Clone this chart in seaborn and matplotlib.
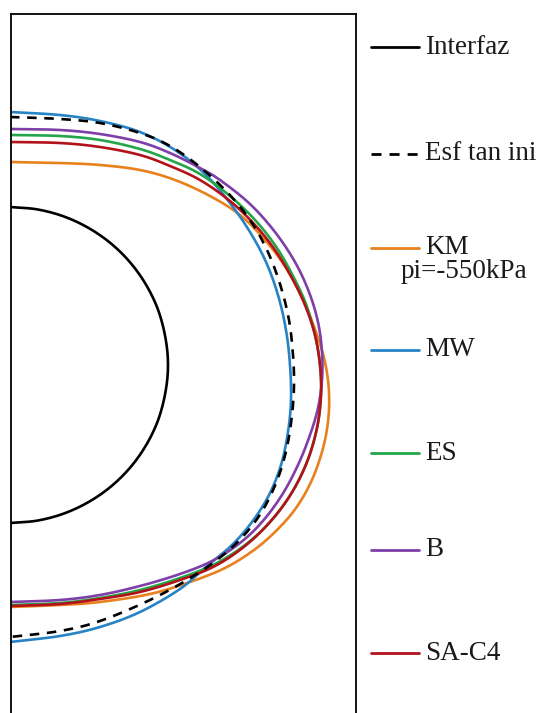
import matplotlib
matplotlib.use("Agg")
import matplotlib.pyplot as plt
import seaborn as sns
import pandas as pd
import numpy as np
from matplotlib.lines import Line2D

sns.set_theme(style="white")
plt.rcParams['font.family'] = ['Liberation Serif', 'DejaVu Serif']

# Curves (x, y in picture units; y grows downward)
interfaz_x = [10, 37.4, 64, 89, 111.6, 131, 146.8, 158.5, 165.6, 168, 165.6, 158.5, 146.8, 131, 111.6, 89, 64, 37.4, 10]
interfaz_y = [207, 209.4, 216.5, 228.2, 244, 263.4, 286, 311, 338.6, 365, 391.4, 419, 444, 466.6, 486, 501.8, 513.5, 520.6, 523]

km_x = [10, 60, 100, 140, 175, 210, 240, 265, 286, 303, 316, 325, 329, 328, 322, 311, 296, 277, 254, 225, 190, 150, 100, 60, 10]
km_y = [162, 163, 165, 170, 180, 196, 215, 240, 268, 300, 332, 362, 392, 422, 452, 482, 508, 530, 550, 568, 582, 594, 602, 605, 607]

mw_x = [10, 60, 100, 140, 175, 205, 230, 250, 266, 278, 286, 290, 291, 288, 281, 269, 252, 232, 207, 180, 140, 100, 60, 10]
mw_y = [112, 115, 121, 132, 150, 174, 203, 232, 262, 295, 330, 365, 400, 432, 465, 495, 522, 545, 566, 589, 612, 627, 636, 642]

es_x = [10, 60, 100, 140, 170, 200, 230, 256, 277, 293, 306, 315, 320, 321, 317, 307, 291, 270, 245, 215, 180, 140, 100, 60, 10]
es_y = [135, 136, 140, 149, 160, 174, 196, 221, 248, 276, 304, 335, 365, 395, 428, 462, 494, 522, 545, 564, 578, 590, 598, 603, 605]

b_x = [10, 60, 100, 140, 170, 200, 220, 250, 275, 295, 309, 318, 322, 322, 318, 310, 298, 282, 262, 240, 212, 180, 140, 100, 60, 10]
b_y = [129, 130, 134, 142, 153, 168, 180, 204, 232, 262, 292, 322, 352, 380, 408, 435, 465, 495, 522, 543, 561, 574, 586, 595, 600, 602]

sac4_x = [10, 60, 100, 140, 170, 200, 230, 255, 275, 292, 305, 315, 320, 321, 317, 307, 291, 270, 245, 215, 180, 140, 100, 60, 10]
sac4_y = [142, 143, 147, 155, 166, 180, 201, 225, 250, 278, 305, 335, 365, 395, 428, 462, 494, 522, 546, 566, 580, 592, 599, 604, 606]

esf_x = [10, 60, 100, 140, 170, 200, 228, 250, 267, 280, 289, 293, 294, 292, 287, 278, 264, 246, 222, 192, 150, 100, 60, 10]
esf_y = [117, 119, 123, 133, 146, 167, 193, 220, 250, 284, 320, 355, 385, 415, 447, 478, 508, 533, 556, 577, 600, 621, 631, 637]

series = [
    ("Interfaz", interfaz_x, interfaz_y, "#000000", "-"),
    ("KM", km_x, km_y, "#E8811C", "-"),
    ("MW", mw_x, mw_y, "#2683C6", "-"),
    ("ES", es_x, es_y, "#23A64A", "-"),
    ("B", b_x, b_y, "#7E3FA8", "-"),
    ("SA-C4", sac4_x, sac4_y, "#B4121B", "-"),
    ("Esf tan ini", esf_x, esf_y, "#000000", (0, (3.6, 2.9))),
]


def smooth_path(xs, ys, n=12):
    """Smoothed drawing path through the read points (like a smoothed scatter line)."""
    p = np.column_stack([xs, ys]).astype(float)
    p = np.vstack([2 * p[0] - p[1], p, 2 * p[-1] - p[-2]])
    out = []
    for i in range(1, len(p) - 2):
        p0, p1, p2, p3 = p[i - 1], p[i], p[i + 1], p[i + 2]
        t = np.linspace(0, 1, n, endpoint=False)[:, None]
        seg = 0.5 * ((2 * p1) + (-p0 + p2) * t + (2 * p0 - 5 * p1 + 4 * p2 - p3) * t ** 2
                     + (-p0 + 3 * p1 - 3 * p2 + p3) * t ** 3)
        out.append(seg)
    out.append(p[-2][None, :])
    out = np.vstack(out)
    return out[:, 0], out[:, 1]


W, H = 557, 713
fig = plt.figure(figsize=(W / 100, H / 100), dpi=100)
left, right, top = 10.5, 356, 14
ax = fig.add_axes([left / W, 0, (right - left) / W, (H - top) / H])

for name, xs, ys, col, ls in series:
    sx, sy = smooth_path(xs, ys)
    df = pd.DataFrame({"x": sx, "y": sy})
    sns.lineplot(data=df, x="x", y="y", sort=False, estimator=None, ax=ax,
                 color=col, linewidth=1.9, linestyle=ls)

ax.set_xlim(left, right)
ax.set_ylim(H, top)
ax.set_xticks([])
ax.set_yticks([])
ax.set_xlabel("")
ax.set_ylabel("")
for s in ["left", "right", "top"]:
    ax.spines[s].set_color("black")
    ax.spines[s].set_linewidth(1.3)
ax.spines["bottom"].set_visible(False)

# Legend drawn at the right side
legend_items = [
    ("Interfaz", "#000000", "-", 47),
    ("Esf tan ini", "#000000", (0, (3.6, 2.9)), 154),
    ("KM", "#E8811C", "-", 248),
    ("MW", "#2683C6", "-", 350),
    ("ES", "#23A64A", "-", 453),
    ("B", "#7E3FA8", "-", 550),
    ("SA-C4", "#B4121B", "-", 653),
]
for lab, col, ls, yy in legend_items:
    yf = 1 - yy / H
    fig.add_artist(Line2D([371 / W, 419 / W], [yf, yf], color=col, linewidth=2.0,
                          linestyle=ls, transform=fig.transFigure))
    fig.text(425 / W, yf, lab, fontsize=19.5, va="center", ha="left", color="#1a1a1a")
fig.text(401 / W, 1 - 272 / H, "pi=-550kPa", fontsize=19.5, va="center", ha="left", color="#1a1a1a")

fig.savefig("out.png", dpi=100)
